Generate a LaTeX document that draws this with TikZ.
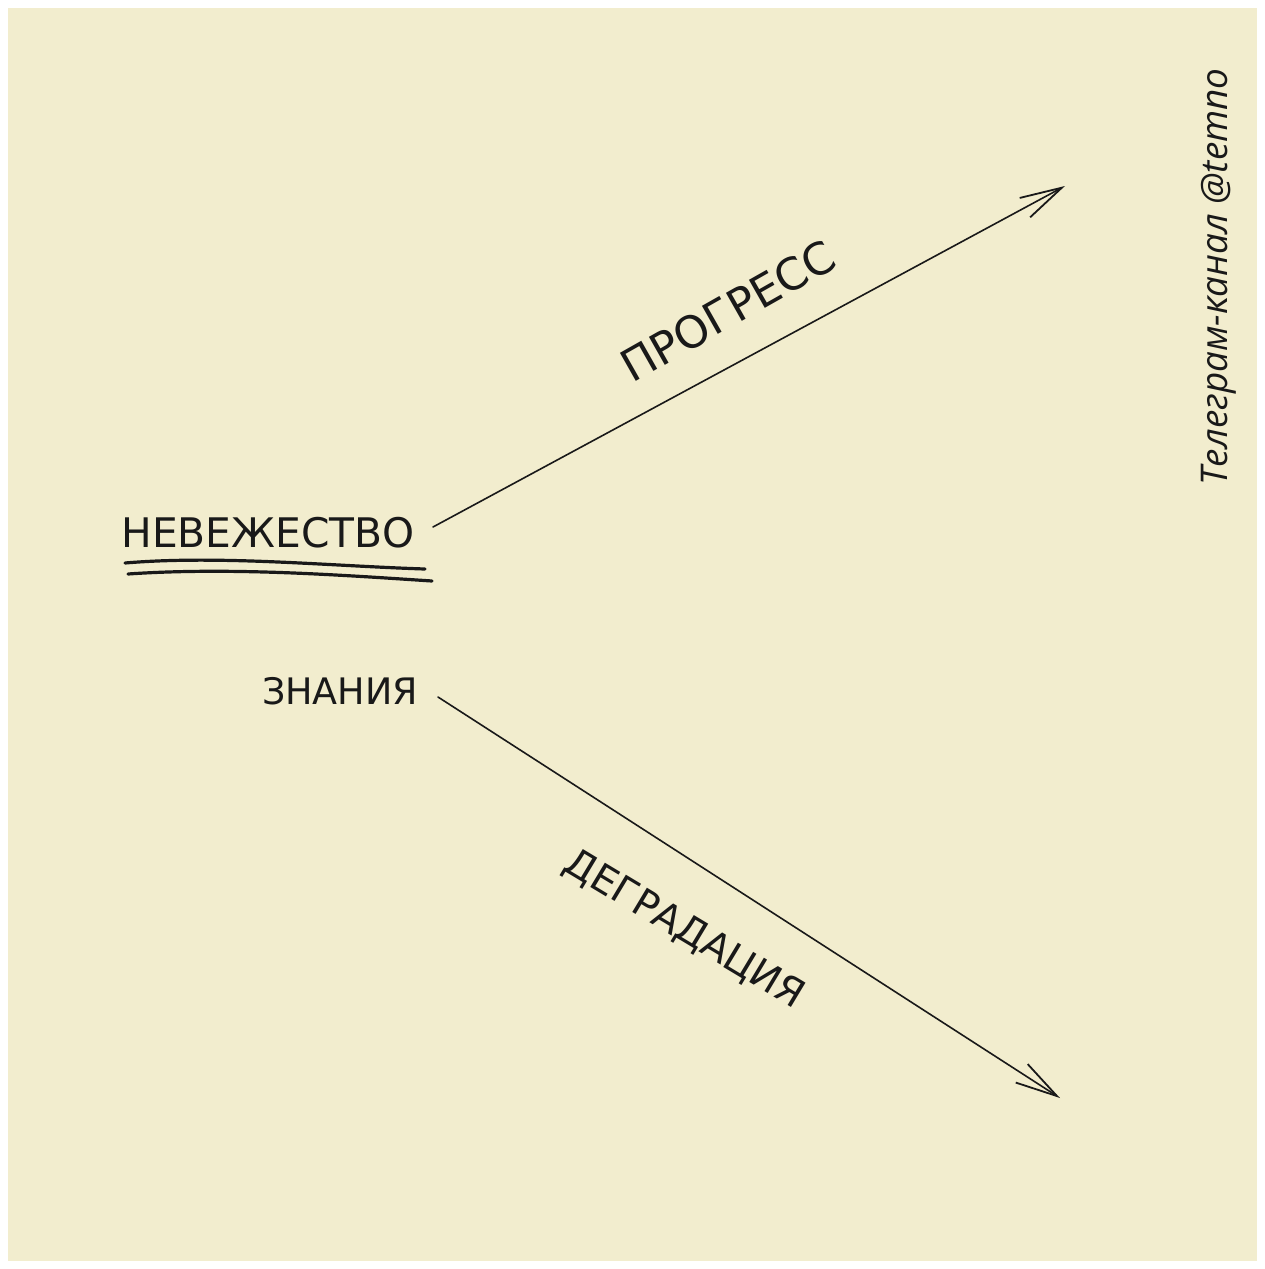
\documentclass[tikz,border=0pt]{standalone}
\usepackage{fontspec}
\setmainfont{DejaVu Sans}
\newfontfamily\telfont{Open Sans}
\usetikzlibrary{arrows.meta}
\definecolor{paper}{RGB}{242,237,206}
\definecolor{ink}{RGB}{25,25,25}
\begin{document}
\begin{tikzpicture}[x=1pt,y=-1pt,
  hand/.style={text=ink, inner sep=0pt},
  arr/.style={draw=ink, line width=1.6pt, line cap=round,
    -{Straight Barb[length=42pt,width=22pt,line width=1.8pt]}},
  ul/.style={draw=ink, line width=3.2pt, line cap=round}]
\useasboundingbox (0,0) rectangle (1265,1269);
\fill[white] (0,0) rectangle (1265,1269);
\fill[paper] (8,8) rectangle (1257,1261);
% texts
\node[hand] (nev) at (268,533) {\resizebox{293pt}{!}{НЕВЕЖЕСТВО}};
\node[hand] (zn) at (340,691) {\resizebox{156pt}{!}{ЗНАНИЯ}};
\node[hand, rotate=29.5] (prog) at (728,311) {\resizebox{238pt}{!}{ПРОГРЕСС}};
\node[hand, rotate=-31] (degr) at (684,930) {\resizebox{272pt}{!}{ДЕГРАДАЦИЯ}};
\node[hand, rotate=90] (tel) at (1219,277) {\resizebox{417pt}{!}{\telfont\itshape Телеграм-канал @temno}};
% underlines
\draw[ul] (125,563) .. controls (220,555) and (330,566) .. (425,569);
\draw[ul] (128,574) .. controls (230,567) and (340,575) .. (432,581);
% arrows
\coordinate (s1) at (433,527);
\coordinate (e1) at (1065,186);
\coordinate (s2) at (438,697);
\coordinate (e2) at (1060,1098);
\draw[arr] (s1) -- (e1);
\draw[arr] (s2) -- (e2);
\end{tikzpicture}
\end{document}
